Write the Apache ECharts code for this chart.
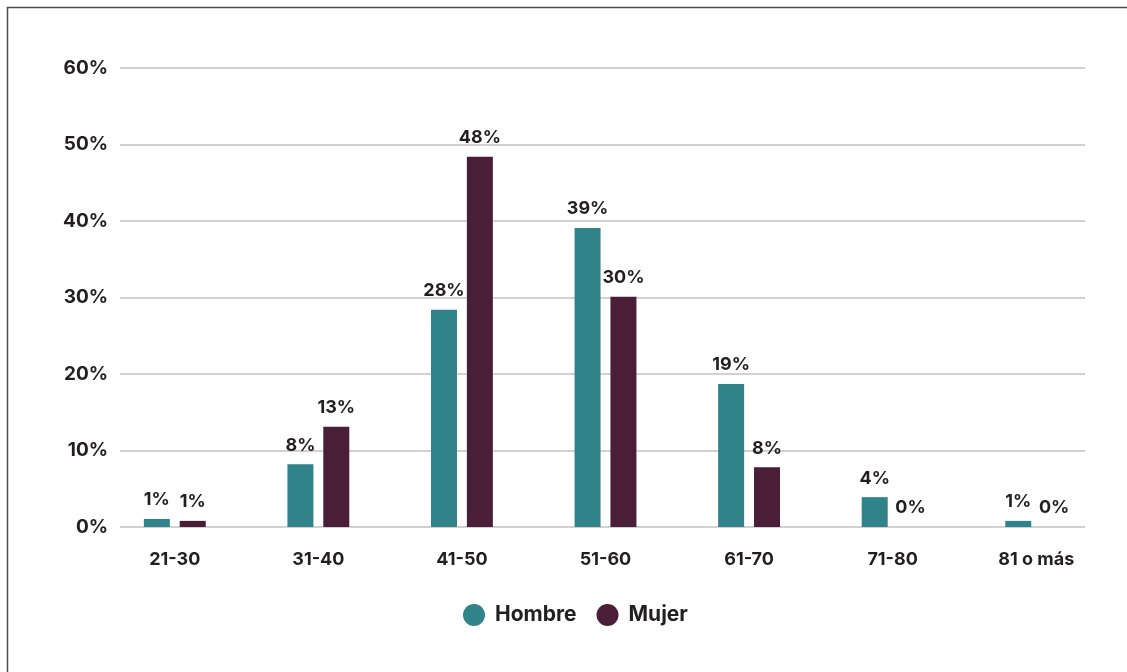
<!DOCTYPE html>
<html>
<head>
<meta charset="utf-8">
<script src="https://cdn.jsdelivr.net/npm/echarts@6/dist/echarts.min.js"></script>
<style>
html,body{margin:0;padding:0;background:#fff;}
#c{width:1127px;height:672px;}
</style>
</head>
<body>
<div id="c"></div>
<script>
const categories = ['21-30','31-40','41-50','51-60','61-70','71-80','81 o más'];
const hombre = [1.05, 8.2, 28.4, 39.1, 18.7, 3.9, 0.8];
const mujer = [0.8, 13.1, 48.4, 30.1, 7.8, 0, 0];
const seriesNames = ['Hombre','Mujer'];
const yTicks = [0, 10, 20, 30, 40, 50, 60];

const FONT = 'Inter';
const TXT = '#231f20';
const chart = echarts.init(document.getElementById('c'), null, {renderer:'canvas'});
const lbl = {
  show:true, position:'top', distance:10,
  fontFamily:FONT, fontWeight:'bold', fontSize:18, color:TXT,
  formatter: p => Math.round(p.value) + '%'
};
chart.setOption({
  animation:false,
  backgroundColor:'#fff',
  graphic:[{type:'rect', shape:{x:7.5,y:7.5,width:1200,height:700},
    style:{fill:'none', stroke:'#4d4d4d', lineWidth:1.5}, silent:true, z:-1}],
  grid:[
    {left:120, right:42, top:68, bottom:145},
    {left:103, right:19, top:68, bottom:145}
  ],
  legend:{
    data:seriesNames, left:458, top:599, icon:'circle', itemWidth:22, itemHeight:22, itemGap:20,
    textStyle:{fontFamily:FONT, fontWeight:'bold', fontSize:21, color:TXT, padding:[0,0,0,5]}
  },
  xAxis:[
    {type:'category', gridIndex:0, data:categories, show:false},
    {type:'category', gridIndex:1, data:categories,
      axisLine:{show:false}, axisTick:{show:false},
      axisLabel:{margin:24, fontFamily:FONT, fontWeight:'bold', fontSize:18, color:TXT}}
  ],
  yAxis:[
    {type:'value', gridIndex:0, min:yTicks[0], max:yTicks[yTicks.length-1], interval:10,
      axisLine:{show:false}, axisTick:{show:false},
      splitLine:{lineStyle:{color:'#c2c2c6', width:1.5}},
      axisLabel:{margin:12, formatter:'{value}%', fontFamily:FONT, fontWeight:'bold', fontSize:19, color:TXT}},
    {type:'value', gridIndex:1, min:0, max:60, show:false, splitLine:{show:false}}
  ],
  series:[
    {name:seriesNames[0], type:'bar', xAxisIndex:1, yAxisIndex:1, data:hombre,
      barWidth:26, barGap:'38%', itemStyle:{color:'#31838a'}, label:lbl},
    {name:seriesNames[1], type:'bar', xAxisIndex:1, yAxisIndex:1, data:mujer,
      barWidth:26, barGap:'38%', itemStyle:{color:'#4a1e36'}, label:lbl}
  ]
});
</script>
</body>
</html>
